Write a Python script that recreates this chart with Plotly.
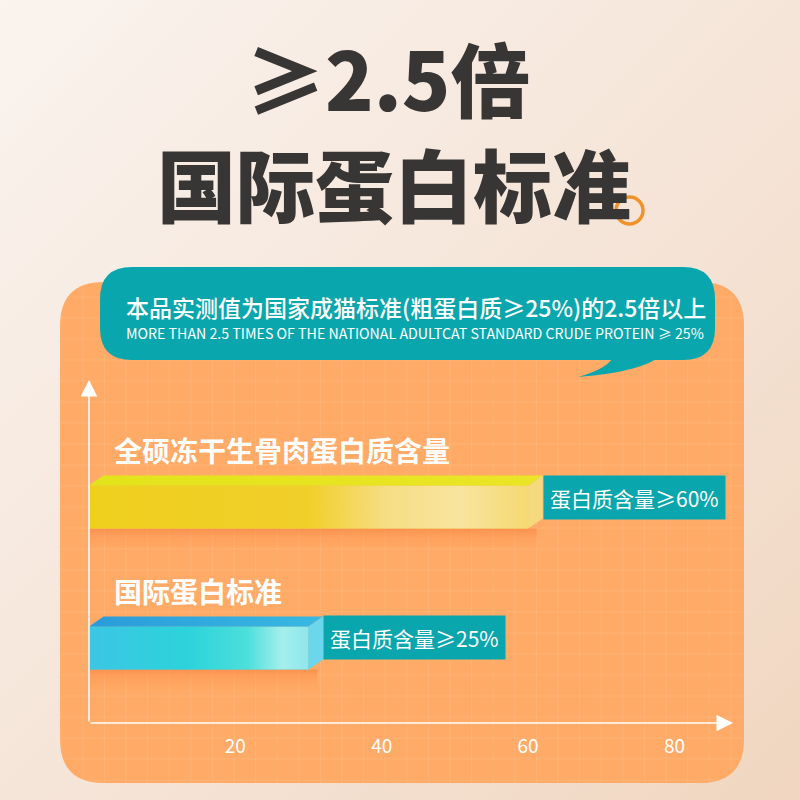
import base64
import plotly.graph_objects as go

# ---------------- data ----------------
categories = ["国际蛋白标准", "全硕冻干生骨肉蛋白质含量"]
bar_values = [30, 60]
value_labels = ["蛋白质含量≥25%", "蛋白质含量≥60%"]
tick_values = [20, 40, 60, 80]
tick_labels = ["20", "40", "60", "80"]
title_lines = ["≥2.5倍", "国际蛋白标准"]
note_cn = "本品实测值为国家成猫标准(粗蛋白质≥25%)的2.5倍以上"
note_en = "MORE THAN 2.5 TIMES OF THE NATIONAL ADULTCAT STANDARD CRUDE PROTEIN ≥ 25%"

# ---------------- styles ----------------
W = H = 800
CJK = "Noto Sans CJK SC, Noto Sans, sans-serif"
TEAL = "#0AA6AD"
PANEL = "#FFAA66"
TITLE_C = "#383635"
front_scales = [
    [[0, "#3CC6E4"], [0.45, "#2CD3DB"], [0.72, "#4CDFDB"], [0.88, "#A4EFEC"], [1, "#8FE6EC"]],
    [[0, "#EFCF1E"], [0.5, "#F1CF2A"], [0.68, "#F6DE86"], [0.85, "#F8E49E"], [1, "#F5D972"]],
]
base_colors = ["#34CFE0", "#F1D438"]
top_scales = [
    [[0, "#2B9BDA"], [1, "#38B9E2"]],
    [[0, "#E2E41A"], [1, "#EAE526"]],
]
side_colors = ["#6CD6EC", "#F4DA7C"]
shadow_scale = [[0, "rgba(250,125,55,0)"], [0.55, "rgba(250,125,55,0.18)"],
                [1, "rgba(248,115,50,0.45)"]]

X_MAX = 88.0
Y_RANGE = [-0.532, 1.901]
BAR_W = 0.305
DX = 2.0
DY = 0.071


def PX(x):
    return x / W


def PY(y):
    return 1 - y / H


def rrect(x0, y0, x1, y1, r):
    return (f"M{PX(x0 + r)},{PY(y0)} L{PX(x1 - r)},{PY(y0)} Q{PX(x1)},{PY(y0)} {PX(x1)},{PY(y0 + r)} "
            f"L{PX(x1)},{PY(y1 - r)} Q{PX(x1)},{PY(y1)} {PX(x1 - r)},{PY(y1)} "
            f"L{PX(x0 + r)},{PY(y1)} Q{PX(x0)},{PY(y1)} {PX(x0)},{PY(y1 - r)} "
            f"L{PX(x0)},{PY(y0 + r)} Q{PX(x0)},{PY(y0)} {PX(x0 + r)},{PY(y0)} Z")


fig = go.Figure()

# ---------------- bars ----------------
for i, (cat, v) in enumerate(zip(categories, bar_values)):
    y0, y1 = i - BAR_W / 2, i + BAR_W / 2
    # soft shadow under the bar
    fig.add_trace(go.Scatter(
        x=[0, v + DX * 0.6, v + DX * 0.6, 0, 0], y=[y0, y0, y0 - 0.15, y0 - 0.15, y0],
        mode="lines", fill="toself", line=dict(width=0),
        fillgradient=dict(type="vertical", colorscale=shadow_scale),
        hoverinfo="skip", showlegend=False))
    # front face (bar)
    fig.add_trace(go.Bar(
        x=[v], y=[i], orientation="h", width=BAR_W, name=cat,
        marker=dict(color=base_colors[i], line=dict(width=0)),
        hovertemplate=cat + ": %{x}<extra></extra>", showlegend=False))
    # gradient sheen on the front face
    fig.add_trace(go.Scatter(
        x=[0, v, v, 0, 0], y=[y0, y0, y1, y1, y0],
        mode="lines", fill="toself", line=dict(width=0),
        fillgradient=dict(type="horizontal", colorscale=front_scales[i]),
        hoverinfo="skip", showlegend=False))
    # top face
    fig.add_trace(go.Scatter(
        x=[0, v, v + DX, DX, 0], y=[y1, y1, y1 + DY, y1 + DY, y1],
        mode="lines", fill="toself", line=dict(width=0),
        fillgradient=dict(type="horizontal", colorscale=top_scales[i]),
        hoverinfo="skip", showlegend=False))
    # side face
    fig.add_trace(go.Scatter(
        x=[v, v + DX, v + DX, v, v], y=[y0, y0 + DY, y1 + DY, y1, y0],
        mode="lines", fill="toself", line=dict(width=0), fillcolor=side_colors[i],
        hoverinfo="skip", showlegend=False))

annotations = []
for i, (cat, v, lab) in enumerate(zip(categories, bar_values, value_labels)):
    annotations.append(dict(
        x=v + DX, y=i + DY, xref="x", yref="y", xanchor="left", yanchor="middle",
        text=lab, showarrow=False, bgcolor=TEAL, borderpad=6, height=31,
        font=dict(family=CJK, size=21, color="white")))
    annotations.append(dict(
        x=0, y=i, xref="x", yref="y", xanchor="left", yanchor="middle",
        xshift=23, yshift=57, text=cat, showarrow=False,
        font=dict(family=CJK, size=28, color="white", weight=700)))

# axis lines with arrows
annotations.append(dict(x=X_MAX, y=Y_RANGE[0], ax=0, ay=Y_RANGE[0], xref="x", yref="y",
                        axref="x", ayref="y", text="", showarrow=True, arrowhead=2,
                        arrowsize=2.2, arrowwidth=1.5, arrowcolor="white"))
annotations.append(dict(x=0, y=Y_RANGE[1], ax=0, ay=Y_RANGE[0], xref="x", yref="y",
                        axref="x", ayref="y", text="", showarrow=True, arrowhead=2,
                        arrowsize=2.2, arrowwidth=1.5, arrowcolor="white"))

# titles and note
annotations.append(dict(x=PX(388), y=PY(76), xref="paper", yref="paper", text=title_lines[0],
                        showarrow=False, xanchor="center", yanchor="middle",
                        font=dict(family=CJK, size=80, color=TITLE_C, weight=900)))
annotations.append(dict(x=PX(394), y=PY(182), xref="paper", yref="paper", text=title_lines[1],
                        showarrow=False, xanchor="center", yanchor="middle",
                        font=dict(family=CJK, size=79, color=TITLE_C, weight=900)))
annotations.append(dict(x=PX(124), y=PY(307), xref="paper", yref="paper", text=note_cn,
                        showarrow=False, xanchor="left", yanchor="middle",
                        font=dict(family=CJK, size=23, color="white", weight=500)))
annotations.append(dict(x=PX(124), y=PY(333), xref="paper", yref="paper", text=note_en,
                        showarrow=False, xanchor="left", yanchor="middle",
                        font=dict(family=CJK, size=14.2, color="white", weight=400)))

# ---------------- decorative shapes ----------------
shapes = []
PANEL_BOX = (60, 282, 744, 783, 44)
shapes.append(dict(type="path", xref="paper", yref="paper", path=rrect(*PANEL_BOX),
                   fillcolor=PANEL, line=dict(width=0), layer="below"))
# faint grid on the panel
gx0, gy0, gx1, gy1, gr = PANEL_BOX
grid_c = "rgba(255,255,255,0.10)"


def inset(d):
    if d >= gr:
        return 0
    return gr - (gr ** 2 - (gr - d) ** 2) ** 0.5


x = 558.0
while x - 21.6 > gx0:
    x -= 21.6
while x < gx1:
    d = min(x - gx0, gx1 - x)
    t = inset(d)
    shapes.append(dict(type="line", xref="paper", yref="paper", x0=PX(x), x1=PX(x),
                       y0=PY(gy0 + t), y1=PY(gy1 - t), line=dict(color=grid_c, width=1), layer="below"))
    x += 21.6
y = 402.0
while y - 21.0 > gy0:
    y -= 21.0
while y < gy1:
    d = min(y - gy0, gy1 - y)
    t = inset(d)
    shapes.append(dict(type="line", xref="paper", yref="paper", y0=PY(y), y1=PY(y),
                       x0=PX(gx0 + t), x1=PX(gx1 - t), line=dict(color=grid_c, width=1), layer="below"))
    y += 21.0

# speech bubble
shapes.append(dict(type="path", xref="paper", yref="paper", path=rrect(100, 267, 715, 360, 32),
                   fillcolor=TEAL, line=dict(width=0), layer="below"))
shapes.append(dict(type="path", xref="paper", yref="paper",
                   path=(f"M{PX(662)},{PY(355)} Q{PX(642)},{PY(372)} {PX(578)},{PY(377)} "
                         f"Q{PX(610)},{PY(368)} {PX(614)},{PY(355)} Z"),
                   fillcolor=TEAL, line=dict(width=0), layer="below"))
# orange ring by the title
shapes.append(dict(type="circle", xref="paper", yref="paper", x0=PX(616), x1=PX(643),
                   y0=PY(224), y1=PY(197), line=dict(color="#F0922A", width=3.5),
                   fillcolor="rgba(0,0,0,0)", layer="above"))

bg_svg = ('<svg xmlns="http://www.w3.org/2000/svg" width="800" height="800">'
          '<defs><linearGradient id="g" x1="0" y1="0" x2="1" y2="1">'
          '<stop offset="0" stop-color="#FAF3EE"/><stop offset="0.55" stop-color="#F5E4D7"/>'
          '<stop offset="1" stop-color="#F0D6C0"/></linearGradient></defs>'
          '<rect width="800" height="800" fill="url(#g)"/></svg>')
bg_src = "data:image/svg+xml;base64," + base64.b64encode(bg_svg.encode()).decode()

fig.update_layout(
    width=W, height=H, margin=dict(l=0, r=0, t=0, b=0),
    paper_bgcolor="#F5E6DA", plot_bgcolor="rgba(0,0,0,0)",
    showlegend=False, barmode="overlay",
    xaxis=dict(domain=[PX(89), PX(733)], range=[0, X_MAX], showgrid=False, zeroline=False,
               showline=False, tickvals=tick_values, ticktext=tick_labels, ticks="outside",
               ticklen=6, tickcolor="rgba(0,0,0,0)",
               tickfont=dict(family=CJK, size=19, color="white"), fixedrange=True),
    yaxis=dict(domain=[PY(723), PY(380)], range=Y_RANGE, showgrid=False, zeroline=False,
               showline=False, showticklabels=False, ticks="", fixedrange=True),
    annotations=annotations, shapes=shapes,
    images=[dict(source=bg_src, xref="paper", yref="paper", x=0, y=1, sizex=1, sizey=1,
                 sizing="stretch", xanchor="left", yanchor="top", layer="below")],
)

fig.write_html("out.html", config={"displayModeBar": False},
               post_script="document.body.style.margin='0';document.body.style.overflow='hidden';")
